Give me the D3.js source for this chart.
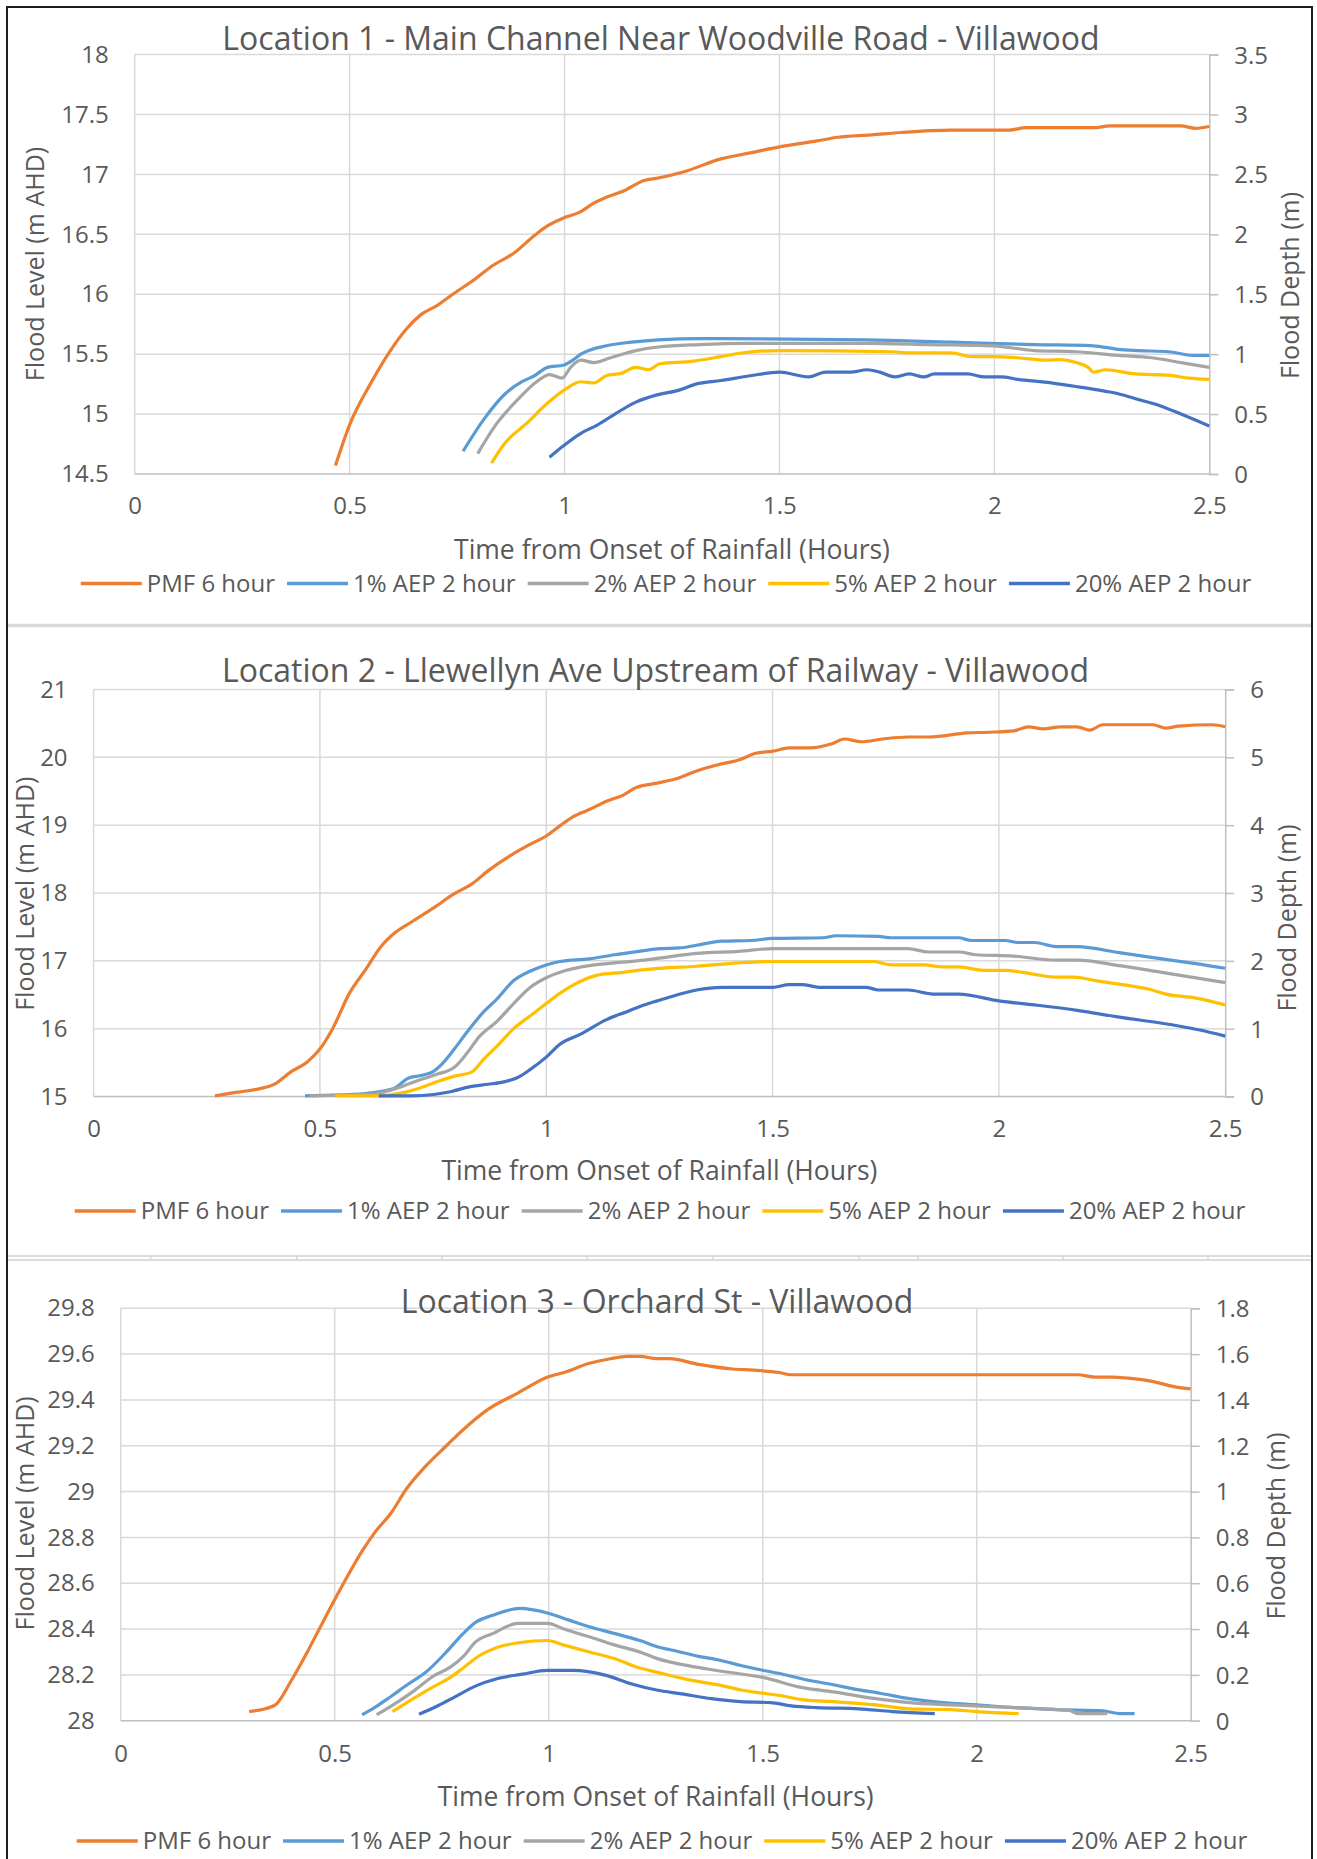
<!DOCTYPE html>
<html>
<head>
<meta charset="utf-8">
<script src="https://cdn.jsdelivr.net/npm/d3@7"></script>
<style>
  body { margin: 0; background: #fff; }
  svg text { font-family: "Open Sans", "Noto Sans", sans-serif; fill: #595959; }
</style>
</head>
<body>
<svg id="fig" width="1317" height="1859"></svg>
<script>
// ---- data (time in hours, flood level in m AHD) ----
var seriesNames = ["PMF 6 hour", "1% AEP 2 hour", "2% AEP 2 hour", "5% AEP 2 hour", "20% AEP 2 hour"];
var timeTicks = [0, 0.5, 1, 1.5, 2, 2.5];

var loc1Title = "Location 1 - Main Channel Near Woodville Road - Villawood";
var loc1LevelTicks = [14.5, 15, 15.5, 16, 16.5, 17, 17.5, 18];
var loc1DepthTicks = [0, 0.5, 1, 1.5, 2, 2.5, 3, 3.5];
var loc1Pmf = [[0.467,14.57],[0.5,14.91],[0.548,15.25],[0.593,15.52],[0.632,15.71],[0.666,15.83],[0.705,15.91],[0.744,16.01],[0.793,16.13],[0.833,16.24],[0.881,16.34],[0.93,16.49],[0.96,16.57],[1.0,16.64],[1.038,16.69],[1.068,16.76],[1.097,16.81],[1.136,16.86],[1.185,16.95],[1.218,16.97],[1.276,17.02],[1.364,17.13],[1.432,17.18],[1.5,17.23],[1.588,17.28],[1.636,17.31],[1.714,17.33],[1.782,17.35],[1.899,17.37],[2.035,17.37],[2.074,17.39],[2.23,17.39],[2.269,17.405],[2.434,17.405],[2.468,17.385],[2.5,17.4]];
var loc1Aep1 = [[0.764,14.69],[0.813,14.96],[0.862,15.17],[0.901,15.27],[0.93,15.32],[0.96,15.39],[0.999,15.41],[1.019,15.45],[1.038,15.5],[1.097,15.57],[1.156,15.6],[1.218,15.62],[1.315,15.63],[1.704,15.62],[1.899,15.6],[2.093,15.58],[2.23,15.57],[2.288,15.54],[2.337,15.53],[2.405,15.52],[2.463,15.49],[2.5,15.49]];
var loc1Aep2 = [[0.798,14.67],[0.842,14.92],[0.891,15.12],[0.935,15.27],[0.965,15.33],[0.994,15.3],[1.014,15.39],[1.038,15.45],[1.068,15.43],[1.107,15.47],[1.166,15.53],[1.218,15.56],[1.315,15.58],[1.412,15.59],[1.7,15.59],[1.85,15.58],[1.996,15.57],[2.093,15.53],[2.19,15.52],[2.288,15.49],[2.366,15.47],[2.434,15.43],[2.5,15.39]];
var loc1Aep5 = [[0.83,14.59],[0.862,14.76],[0.911,14.92],[0.96,15.09],[0.999,15.2],[1.038,15.27],[1.068,15.26],[1.097,15.32],[1.131,15.34],[1.166,15.39],[1.195,15.37],[1.222,15.42],[1.296,15.44],[1.364,15.48],[1.412,15.51],[1.5,15.53],[1.763,15.52],[1.802,15.51],[1.899,15.51],[1.947,15.48],[1.996,15.48],[2.054,15.47],[2.123,15.45],[2.152,15.455],[2.19,15.43],[2.22,15.385],[2.23,15.35],[2.259,15.37],[2.327,15.335],[2.405,15.325],[2.453,15.3],[2.5,15.29]];
var loc1Aep20 = [[0.965,14.64],[0.999,14.74],[1.038,14.84],[1.077,14.91],[1.117,15.0],[1.166,15.1],[1.215,15.16],[1.267,15.2],[1.305,15.25],[1.364,15.28],[1.432,15.32],[1.5,15.35],[1.568,15.31],[1.607,15.35],[1.665,15.35],[1.704,15.37],[1.733,15.35],[1.768,15.31],[1.802,15.335],[1.836,15.31],[1.86,15.335],[1.938,15.335],[1.977,15.31],[2.016,15.31],[2.054,15.29],[2.132,15.26],[2.19,15.23],[2.259,15.19],[2.288,15.17],[2.337,15.12],[2.385,15.07],[2.434,15.0],[2.5,14.9]];

var loc2Title = "Location 2 - Llewellyn Ave Upstream of Railway - Villawood";
var loc2LevelTicks = [15, 16, 17, 18, 19, 20, 21];
var loc2DepthTicks = [0, 1, 2, 3, 4, 5, 6];
var loc2Pmf = [[0.268,15.01],[0.314,15.06],[0.37,15.12],[0.402,15.19],[0.435,15.36],[0.472,15.51],[0.5,15.7],[0.528,16.0],[0.565,16.52],[0.602,16.88],[0.635,17.21],[0.667,17.42],[0.704,17.58],[0.751,17.78],[0.797,17.99],[0.835,18.13],[0.872,18.33],[0.918,18.54],[0.965,18.72],[1.0,18.84],[1.03,18.99],[1.058,19.12],[1.095,19.23],[1.132,19.35],[1.169,19.44],[1.197,19.55],[1.245,19.62],[1.285,19.68],[1.332,19.8],[1.379,19.89],[1.425,19.96],[1.463,20.06],[1.5,20.09],[1.537,20.14],[1.584,20.14],[1.631,20.2],[1.659,20.27],[1.696,20.23],[1.743,20.27],[1.799,20.3],[1.846,20.3],[1.93,20.36],[1.977,20.37],[2.033,20.39],[2.065,20.45],[2.098,20.42],[2.136,20.45],[2.173,20.45],[2.201,20.4],[2.229,20.48],[2.341,20.48],[2.369,20.43],[2.397,20.46],[2.472,20.48],[2.5,20.45]];
var loc2Aep1 = [[0.467,15.01],[0.574,15.03],[0.63,15.07],[0.667,15.13],[0.695,15.27],[0.723,15.31],[0.751,15.37],[0.77,15.48],[0.797,15.7],[0.825,15.95],[0.862,16.25],[0.89,16.43],[0.928,16.71],[0.965,16.85],[1.0,16.94],[1.03,16.99],[1.095,17.03],[1.151,17.09],[1.216,17.15],[1.25,17.18],[1.294,17.19],[1.332,17.23],[1.388,17.29],[1.453,17.3],[1.5,17.33],[1.612,17.34],[1.64,17.37],[1.734,17.36],[1.762,17.34],[1.911,17.34],[1.939,17.3],[2.014,17.3],[2.042,17.27],[2.079,17.27],[2.126,17.21],[2.173,17.21],[2.266,17.12],[2.36,17.03],[2.435,16.96],[2.5,16.89]];
var loc2Aep2 = [[0.477,15.01],[0.612,15.03],[0.649,15.08],[0.686,15.16],[0.723,15.25],[0.76,15.33],[0.797,15.43],[0.825,15.64],[0.853,15.89],[0.89,16.1],[0.928,16.37],[0.965,16.61],[1.0,16.75],[1.039,16.85],[1.095,16.93],[1.151,16.97],[1.216,17.01],[1.25,17.04],[1.332,17.11],[1.425,17.14],[1.5,17.18],[1.799,17.18],[1.846,17.13],[1.911,17.13],[1.949,17.09],[2.033,17.07],[2.126,17.01],[2.173,17.01],[2.266,16.93],[2.36,16.83],[2.5,16.68]];
var loc2Aep5 = [[0.533,15.01],[0.63,15.01],[0.686,15.06],[0.723,15.13],[0.76,15.22],[0.797,15.3],[0.835,15.36],[0.862,15.55],[0.895,15.77],[0.928,16.0],[0.965,16.19],[1.0,16.37],[1.03,16.52],[1.076,16.7],[1.113,16.79],[1.169,16.83],[1.216,16.87],[1.25,16.89],[1.332,16.92],[1.425,16.97],[1.5,16.99],[1.724,16.99],[1.762,16.94],[1.836,16.94],[1.874,16.91],[1.911,16.91],[1.967,16.86],[2.014,16.86],[2.079,16.8],[2.126,16.76],[2.164,16.76],[2.22,16.7],[2.332,16.58],[2.369,16.51],[2.435,16.45],[2.5,16.35]];
var loc2Aep20 = [[0.63,15.01],[0.704,15.01],[0.751,15.03],[0.788,15.07],[0.835,15.15],[0.872,15.18],[0.909,15.22],[0.937,15.28],[0.965,15.4],[1.0,15.58],[1.03,15.77],[1.076,15.92],[1.132,16.13],[1.178,16.25],[1.216,16.35],[1.245,16.41],[1.285,16.49],[1.332,16.57],[1.388,16.61],[1.5,16.61],[1.537,16.65],[1.565,16.65],[1.603,16.61],[1.706,16.61],[1.734,16.57],[1.799,16.57],[1.855,16.51],[1.911,16.51],[2.0,16.41],[2.079,16.35],[2.173,16.27],[2.266,16.17],[2.397,16.04],[2.444,15.98],[2.5,15.89]];

var loc3Title = "Location 3 - Orchard St - Villawood";
var loc3LevelTicks = [28, 28.2, 28.4, 28.6, 28.8, 29, 29.2, 29.4, 29.6, 29.8];
var loc3DepthTicks = [0, 0.2, 0.4, 0.6, 0.8, 1, 1.2, 1.4, 1.6, 1.8];
var loc3Pmf = [[0.3,28.04],[0.333,28.05],[0.362,28.07],[0.397,28.17],[0.436,28.3],[0.475,28.44],[0.515,28.58],[0.564,28.74],[0.593,28.82],[0.633,28.91],[0.667,29.01],[0.712,29.11],[0.761,29.2],[0.8,29.27],[0.859,29.36],[0.928,29.43],[0.998,29.5],[1.036,29.52],[1.095,29.56],[1.144,29.58],[1.184,29.59],[1.214,29.59],[1.252,29.58],[1.281,29.58],[1.35,29.555],[1.429,29.535],[1.478,29.53],[1.537,29.52],[1.567,29.51],[2.236,29.51],[2.276,29.5],[2.315,29.5],[2.354,29.495],[2.413,29.48],[2.463,29.457],[2.5,29.448]];
var loc3Aep1 = [[0.564,28.026],[0.593,28.057],[0.633,28.108],[0.672,28.16],[0.712,28.21],[0.761,28.3],[0.8,28.38],[0.83,28.43],[0.869,28.46],[0.933,28.49],[0.997,28.47],[1.046,28.44],[1.095,28.41],[1.155,28.38],[1.213,28.35],[1.252,28.324],[1.3,28.303],[1.35,28.281],[1.4,28.264],[1.449,28.241],[1.5,28.22],[1.547,28.203],[1.596,28.181],[1.665,28.157],[1.715,28.138],[1.774,28.12],[1.843,28.096],[1.921,28.079],[2.0,28.069],[2.089,28.057],[2.187,28.048],[2.295,28.043],[2.335,28.031],[2.369,28.031]];
var loc3Aep2 = [[0.598,28.026],[0.633,28.065],[0.682,28.126],[0.731,28.195],[0.771,28.235],[0.8,28.28],[0.83,28.345],[0.869,28.38],[0.928,28.425],[0.997,28.425],[1.036,28.4],[1.095,28.366],[1.155,28.33],[1.213,28.3],[1.252,28.272],[1.331,28.238],[1.4,28.217],[1.5,28.189],[1.596,28.143],[1.665,28.126],[1.764,28.096],[1.843,28.079],[1.941,28.069],[2.089,28.057],[2.217,28.045],[2.236,28.031],[2.305,28.031]];
var loc3Aep5 = [[0.635,28.04],[0.672,28.083],[0.721,28.138],[0.771,28.19],[0.8,28.23],[0.84,28.286],[0.879,28.32],[0.928,28.34],[0.997,28.35],[1.036,28.33],[1.095,28.3],[1.155,28.27],[1.213,28.23],[1.252,28.212],[1.331,28.177],[1.4,28.155],[1.449,28.134],[1.5,28.12],[1.547,28.108],[1.596,28.091],[1.665,28.083],[1.764,28.069],[1.843,28.052],[1.941,28.048],[2.0,28.04],[2.098,28.031]];
var loc3Aep20 = [[0.697,28.028],[0.741,28.065],[0.78,28.103],[0.83,28.152],[0.879,28.183],[0.938,28.203],[0.997,28.22],[1.056,28.22],[1.134,28.198],[1.194,28.16],[1.252,28.134],[1.311,28.117],[1.38,28.096],[1.449,28.083],[1.518,28.079],[1.567,28.065],[1.626,28.057],[1.724,28.052],[1.803,28.04],[1.902,28.031]];

// ---- styles / layout ----
var colors = ["#ED7D31", "#5B9BD5", "#A5A5A5", "#FFC000", "#4472C4"];
var gridColor = "#d9d9d9", axisColor = "#bfbfbf";
var fTitle = 32, fTick = 24, fAxisX = 26.5, fAxisY = 25, fLegend = 24;

var panels = [
  { title: loc1Title, levelTicks: loc1LevelTicks, depthTicks: loc1DepthTicks,
    series: [loc1Pmf, loc1Aep1, loc1Aep2, loc1Aep5, loc1Aep20],
    left: 134.7, right: 1209.3, top: 54.6, bottom: 474,
    titleX: 661, titleY: 38.8, xTickY: 506, xTitleY: 549.5, legendY: 583.5, legendCx: 666,
    yTitleX: 35, yTitleY: 264, y2TitleX: 1290.5, y2TitleY: 285.5 },
  { title: loc2Title, levelTicks: loc2LevelTicks, depthTicks: loc2DepthTicks,
    series: [loc2Pmf, loc2Aep1, loc2Aep2, loc2Aep5, loc2Aep20],
    left: 93.6, right: 1225.2, top: 689.5, bottom: 1096.5,
    titleX: 655.5, titleY: 670.4, xTickY: 1128.4, xTitleY: 1171, legendY: 1211, legendCx: 660,
    yTitleX: 25, yTitleY: 893.7, y2TitleX: 1287.5, y2TitleY: 918 },
  { title: loc3Title, levelTicks: loc3LevelTicks, depthTicks: loc3DepthTicks,
    series: [loc3Pmf, loc3Aep1, loc3Aep2, loc3Aep5, loc3Aep20],
    left: 120.7, right: 1190.7, top: 1308.3, bottom: 1720.7,
    titleX: 657, titleY: 1301.7, xTickY: 1754, xTitleY: 1797, legendY: 1841, legendCx: 662,
    yTitleX: 25, yTitleY: 1513.4, y2TitleX: 1275.8, y2TitleY: 1526 }
];

var svg = d3.select("#fig");

// separators between the three charts
svg.append("line").attr("x1", 8).attr("x2", 1312).attr("y1", 625.5).attr("y2", 625.5)
  .attr("stroke", "#d9d9d9").attr("stroke-width", 3.5);
[1256, 1260].forEach(function(y){
  svg.append("line").attr("x1", 8).attr("x2", 1312).attr("y1", y).attr("y2", y)
    .attr("stroke", "#d0d0d0").attr("stroke-width", 1.5);
});
[150.7, 296.7, 442, 587, 713, 859, 918, 1063, 1208].forEach(function(x){
  svg.append("line").attr("x1", x).attr("x2", x).attr("y1", 1256).attr("y2", 1260)
    .attr("stroke", "#d0d0d0").attr("stroke-width", 1.2);
});

function drawPanel(p) {
  var lv = p.levelTicks;
  var x = d3.scaleLinear().domain([0, 2.5]).range([p.left, p.right]);
  var y = d3.scaleLinear().domain([lv[0], lv[lv.length - 1]]).range([p.bottom, p.top]);
  var dp = p.depthTicks;
  var y2 = d3.scaleLinear().domain([dp[0], dp[dp.length - 1]]).range([p.bottom, p.top]);

  var g = svg.append("g");

  // gridlines
  g.append("g").selectAll("line").data(lv.slice(1)).enter().append("line")
    .attr("x1", p.left).attr("x2", p.right)
    .attr("y1", function(d){ return y(d); }).attr("y2", function(d){ return y(d); })
    .attr("stroke", gridColor).attr("stroke-width", 1.5);
  g.append("g").selectAll("line").data(timeTicks.slice(1, -1)).enter().append("line")
    .attr("y1", p.top).attr("y2", p.bottom)
    .attr("x1", function(d){ return x(d); }).attr("x2", function(d){ return x(d); })
    .attr("stroke", gridColor).attr("stroke-width", 1.5);

  // axis lines
  g.append("line").attr("x1", p.left).attr("x2", p.left).attr("y1", p.top).attr("y2", p.bottom)
    .attr("stroke", gridColor).attr("stroke-width", 1.5);
  g.append("line").attr("x1", p.left).attr("x2", p.right).attr("y1", p.bottom).attr("y2", p.bottom)
    .attr("stroke", axisColor).attr("stroke-width", 1.5);

  // right (depth) axis with outside ticks
  var ax2 = g.append("g").attr("transform", "translate(" + p.right + ",0)")
    .call(d3.axisRight(y2).tickValues(dp).tickSize(9).tickPadding(16).tickFormat(d3.format("")));
  ax2.select(".domain").attr("stroke", axisColor).attr("stroke-width", 1.5);
  ax2.selectAll(".tick line").attr("stroke", axisColor).attr("stroke-width", 1.5);
  ax2.selectAll(".tick text").attr("font-size", fTick).attr("fill", "#595959")
    .attr("font-family", null).attr("dy", "0.35em");

  // left (level) tick labels
  var ax1 = g.append("g").attr("transform", "translate(" + p.left + ",0)")
    .call(d3.axisLeft(y).tickValues(lv).tickSize(0).tickPadding(26).tickFormat(d3.format("")));
  ax1.select(".domain").remove();
  ax1.selectAll(".tick text").attr("font-size", fTick).attr("fill", "#595959").attr("font-family", null);

  // bottom tick labels
  var axb = g.append("g").attr("transform", "translate(0," + p.bottom + ")")
    .call(d3.axisBottom(x).tickValues(timeTicks).tickSize(0).tickFormat(d3.format("")));
  axb.select(".domain").remove();
  axb.selectAll(".tick text").attr("font-size", fTick).attr("fill", "#595959").attr("font-family", null)
    .attr("y", p.xTickY - p.bottom).attr("dy", "0.35em");

  // series lines
  var line = d3.line().x(function(d){ return x(d[0]); }).y(function(d){ return y(d[1]); })
    .curve(d3.curveMonotoneX);
  p.series.forEach(function(s, i){
    g.append("path").attr("d", line(s)).attr("fill", "none")
      .attr("stroke", colors[i]).attr("stroke-width", 3.2)
      .attr("stroke-linejoin", "round").attr("stroke-linecap", "butt");
  });

  // titles
  g.append("text").attr("x", p.titleX).attr("y", p.titleY).attr("dy", "0.35em")
    .attr("text-anchor", "middle").attr("font-size", fTitle).text(p.title);
  g.append("text").attr("x", (p.left + p.right) / 2).attr("y", p.xTitleY).attr("dy", "0.35em")
    .attr("text-anchor", "middle").attr("font-size", fAxisX).text("Time from Onset of Rainfall (Hours)");
  g.append("text").attr("transform", "translate(" + p.yTitleX + "," + p.yTitleY + ") rotate(-90)")
    .attr("dy", "0.35em").attr("text-anchor", "middle").attr("font-size", fAxisY).text("Flood Level (m AHD)");
  g.append("text").attr("transform", "translate(" + p.y2TitleX + "," + p.y2TitleY + ") rotate(-90)")
    .attr("dy", "0.35em").attr("text-anchor", "middle").attr("font-size", fAxisY).text("Flood Depth (m)");

  // legend
  var lg = g.append("g");
  var cx = 0;
  seriesNames.forEach(function(name, i){
    lg.append("line").attr("x1", cx).attr("x2", cx + 61).attr("y1", 0).attr("y2", 0)
      .attr("stroke", colors[i]).attr("stroke-width", 3.4);
    var t = lg.append("text").attr("x", cx + 66).attr("y", 0).attr("dy", "0.35em")
      .attr("font-size", fLegend).text(name);
    cx += 66 + t.node().getComputedTextLength() + 12;
  });
  var total = cx - 12;
  lg.attr("transform", "translate(" + (p.legendCx - total / 2) + "," + p.legendY + ")");
}

panels.forEach(drawPanel);

// outer frame (bottom edge is cut off in the reference)
svg.append("path").attr("d", "M7,1859V7H1312V1859").attr("fill", "none")
  .attr("stroke", "#1e1e1e").attr("stroke-width", 2);
</script>
</body>
</html>
